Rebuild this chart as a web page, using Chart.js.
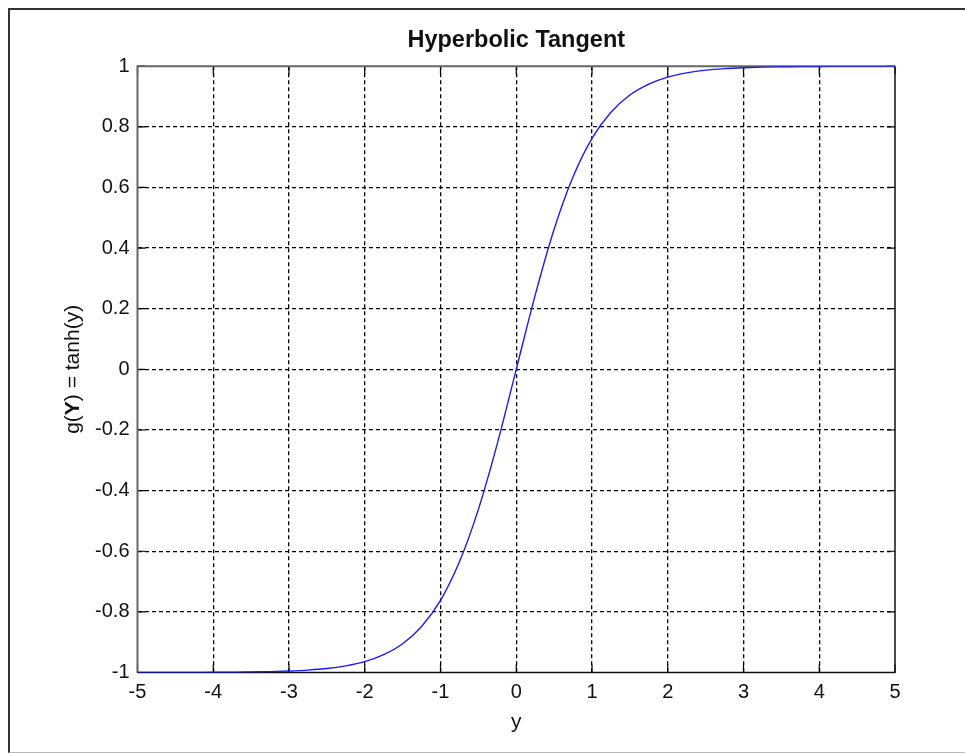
<!DOCTYPE html>
<html lang="en">
<head>
  <meta charset="UTF-8">
  <title>Hyperbolic Tangent</title>
  <script src="https://cdn.jsdelivr.net/npm/chart.js@4.4.0/dist/chart.umd.min.js"></script>
  <style>
    html, body { margin: 0; padding: 0; background: #fff; }
    #frame {
      position: absolute; left: 8px; top: 8px; width: 1000px; height: 742px;
      border-top: 2px solid #333; border-left: 2px solid #333; border-bottom: 1px solid #bbb;
    }
    #myChart { position: absolute; left: 0; top: 0; }
  </style>
</head>
<body>
  <div id="frame"></div>
  <canvas id="myChart" width="965" height="754"></canvas>

  <script>
    // values (step 0.25)
    const xs = [-5, -4.75, -4.5, -4.25, -4, -3.75, -3.5, -3.25, -3, -2.75, -2.5, -2.25, -2, -1.75, -1.5, -1.25, -1, -0.75, -0.5, -0.25,
                0, 0.25, 0.5, 0.75, 1, 1.25, 1.5, 1.75, 2, 2.25, 2.5, 2.75, 3, 3.25, 3.5, 3.75, 4, 4.25, 4.5, 4.75, 5]
    const gs = [-1.000, -1.000, -1.000, -1.000, -0.999, -0.999, -0.998, -0.997, -0.995, -0.992, -0.987, -0.978, -0.964, -0.941, -0.905, -0.848, -0.762, -0.635, -0.462, -0.245,
                0, 0.245, 0.462, 0.635, 0.762, 0.848, 0.905, 0.941, 0.964, 0.978, 0.987, 0.992, 0.995, 0.997, 0.998, 0.999, 0.999, 1.000, 1.000, 1.000, 1.000]
    const xTickLabels = ['-5', '-4', '-3', '-2', '-1', '0', '1', '2', '3', '4', '5']
    const yTickLabels = ['-1', '-0.8', '-0.6', '-0.4', '-0.2', '0', '0.2', '0.4', '0.6', '0.8', '1']

    const FONT = "'Liberation Sans', Arial, sans-serif"

    // no dashed grid line on the box edges
    const gridColor = (c) => (c.index === 0 || c.index === c.scale.ticks.length - 1) ? 'rgba(0,0,0,0)' : '#000'

    // box round the axes plus the inward tick marks (drawn under the curve)
    const axesBox = {
      id: 'axesBox',
      beforeDatasetsDraw(chart) {
        const { ctx, chartArea: a, scales } = chart
        const tl = 8
        ctx.save()
        ctx.setLineDash([])
        ctx.strokeStyle = '#000'
        ctx.lineWidth = 1.2
        scales.x.ticks.forEach(t => {
          const px = scales.x.getPixelForValue(t.value)
          ctx.beginPath()
          ctx.moveTo(px, a.bottom); ctx.lineTo(px, a.bottom - tl)
          ctx.moveTo(px, a.top); ctx.lineTo(px, a.top + tl)
          ctx.stroke()
        })
        scales.y.ticks.forEach(t => {
          const py = scales.y.getPixelForValue(t.value)
          ctx.beginPath()
          ctx.moveTo(a.left, py); ctx.lineTo(a.left + tl, py)
          ctx.moveTo(a.right, py); ctx.lineTo(a.right - tl, py)
          ctx.stroke()
        })
        ctx.strokeStyle = '#666'
        ctx.lineWidth = 2
        ctx.beginPath()
        ctx.moveTo(a.left, a.bottom); ctx.lineTo(a.left, a.top); ctx.lineTo(a.right, a.top)
        ctx.stroke()
        ctx.strokeStyle = '#111'
        ctx.lineWidth = 1.5
        ctx.beginPath()
        ctx.moveTo(a.right, a.top); ctx.lineTo(a.right, a.bottom); ctx.lineTo(a.left, a.bottom)
        ctx.stroke()
        ctx.restore()
      },
      // y axis title with a bold Y in it
      afterDraw(chart) {
        const { ctx, chartArea: a } = chart
        const parts = [['g(', ''], ['Y', 'bold '], [') = tanh(y)', '']]
        ctx.save()
        ctx.fillStyle = '#111'
        ctx.textBaseline = 'middle'
        let total = 0
        parts.forEach(p => { ctx.font = p[1] + '21px ' + FONT; total += ctx.measureText(p[0]).width })
        ctx.translate(73, (a.top + a.bottom) / 2)
        ctx.rotate(-Math.PI / 2)
        let x = -total / 2
        parts.forEach(p => {
          ctx.font = p[1] + '21px ' + FONT
          ctx.fillText(p[0], x, 0)
          x += ctx.measureText(p[0]).width
        })
        ctx.restore()
      }
    }

    const ctx = document.getElementById('myChart')
    const myChart = new Chart(ctx, {
      type: 'line',
      data: {
        datasets: [{
          label: 'tanh',
          data: xs.map((x, i) => ({ x: x, y: gs[i] })),
          borderColor: '#1a1aff',
          borderWidth: 1.4,
          pointRadius: 0,
          fill: false,
          cubicInterpolationMode: 'monotone'
        }]
      },
      options: {
        responsive: false,
        animation: false,
        layout: { padding: { left: 0, right: 70, top: 0, bottom: 0 } },
        plugins: {
          legend: { display: false },
          tooltip: { enabled: false },
          title: {
            display: true,
            text: 'Hyperbolic Tangent',
            fullSize: false,
            color: '#111',
            font: { family: FONT, size: 23.5, weight: 'bold' },
            padding: { top: 26, bottom: 12 }
          }
        },
        scales: {
          x: {
            type: 'linear',
            min: -5, max: 5,
            afterFit(s) { s.height = 81.5 },
            border: { display: false, dash: [4, 3] },
            grid: { color: gridColor, lineWidth: 1.3, drawTicks: false },
            ticks: {
              stepSize: 1, maxRotation: 0, autoSkip: false, padding: 8,
              color: '#111', font: { family: FONT, size: 20 },
              callback: (v, i) => xTickLabels[i]
            },
            title: {
              display: true, text: 'y', color: '#111',
              font: { family: FONT, size: 21 },
              padding: { top: 0, bottom: 19 }
            }
          },
          y: {
            min: -1, max: 1,
            afterFit(s) { s.width = 137.5 },
            border: { display: false, dash: [4, 3] },
            grid: { color: gridColor, lineWidth: 1.3, drawTicks: false },
            ticks: {
              stepSize: 0.2, autoSkip: false, padding: 8,
              color: '#111', font: { family: FONT, size: 20 },
              callback: (v, i) => yTickLabels[i]
            }
          }
        }
      },
      plugins: [axesBox]
    })
  </script>
</body>
</html>
